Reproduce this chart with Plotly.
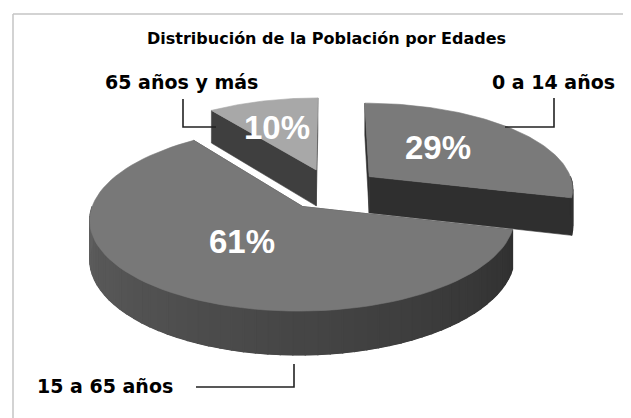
import numpy as np
import plotly.graph_objects as go

# ---------------- data ----------------
categories = ["0 a 14 años", "15 a 65 años", "65 años y más"]
values = [29, 61, 10]
pct_labels = ["29%", "61%", "10%"]
title_text = "Distribución de la Población por Edades"

# ---------------- style / geometry ----------------
W, HGT = 631, 418
CX, CY = 323.0, 181.0      # pie centre (px)
R, RY = 205.0, 86.0        # horizontal radius, vertical radius
K = 0.13                   # perspective factor
THICK = 37.0               # slice thickness
EXPL = 0.24                # explosion (fraction of radius)
START = 0.0                # first slice starts at 12 o'clock, clockwise

top_colors = ["#7a7a7a", "#787878", "#a8a8a8"]
cut_colors = ["#2f2f2f", "#3a3a3a", "#3f3f3f"]
wall_dark, wall_light = 0x2c, 0x60
pct_r = [0.52, 0.45, 0.6]        # radial position of percent labels
pct_dtheta = [-7.0, 2.0, -3.0]   # angular nudge of percent labels

# label placement (px) and leader paths
label_pos = [(545, 74), (97, 378), (173, 74)]
leader_paths = [
    [(546, 90), (546, 119), (497, 119)],
    [(188, 379), (286, 379), (286, 356)],
    [(175, 91), (175, 119), (208, 119)],
]


def gray(g):
    g = int(g)
    return "#%02x%02x%02x" % (g, g, g)


def proj(theta, r, off, bottom=False):
    t = np.radians(theta)
    u = r * np.sin(t) + off[0]
    w = r * np.cos(t) + off[1]
    f = 1.0 / (1.0 + K * w)
    x = CX + R * u * f
    y = CY - RY * w * f + (THICK * f if bottom else 0.0)
    return x, y


def poly_trace(xs, ys, color, lw=0.6):
    return go.Scatter(x=list(xs), y=list(ys), mode="lines", fill="toself",
                      fillcolor=color, line=dict(color=color, width=lw),
                      hoverinfo="skip", showlegend=False)


total = float(sum(values))
slices = []
acc = START
for i, v in enumerate(values):
    a = acc
    b = acc + 360.0 * v / total
    acc = b
    mid = np.radians((a + b) / 2)
    off = (EXPL * np.sin(mid), EXPL * np.cos(mid))
    slices.append(dict(i=i, a=a, b=b, off=off))

# draw back-to-front
order = sorted(slices, key=lambda s: -s["off"][1])

fig = go.Figure()
for s in order:
    i, a, b, off = s["i"], s["a"], s["b"], s["off"]
    # radial cut faces
    for edge in (a, b):
        p1 = proj(edge, 0, off)
        p2 = proj(edge, 1, off)
        p3 = proj(edge, 1, off, True)
        p4 = proj(edge, 0, off, True)
        fig.add_trace(poly_trace([p1[0], p2[0], p3[0], p4[0], p1[0]],
                                 [p1[1], p2[1], p3[1], p4[1], p1[1]],
                                 cut_colors[i]))
    # outer wall (front half)
    w0, w1 = max(a, 90.0), min(b, 270.0)
    if w1 > w0:
        th = np.linspace(w0, w1, 60)
        top = [proj(t, 1, off) for t in th]
        bot = [proj(t, 1, off, True) for t in th[::-1]]
        base = gray((wall_dark + wall_light) / 2)
        fig.add_trace(poly_trace([p[0] for p in top + bot] + [top[0][0]],
                                 [p[1] for p in top + bot] + [top[0][1]], base))
        n = max(2, int((w1 - w0) / 3) + 1)
        th = np.linspace(w0, w1, n + 1)
        for j in range(n):
            t0, t1 = th[j], th[j + 1]
            q = [proj(t0, 1, off), proj(t1, 1, off),
                 proj(t1, 1, off, True), proj(t0, 1, off, True)]
            frac = ((t0 + t1) / 2 - 90.0) / 180.0
            col = gray(wall_dark + (wall_light - wall_dark) * frac)
            fig.add_trace(poly_trace([p[0] for p in q] + [q[0][0]],
                                     [p[1] for p in q] + [q[0][1]], col, lw=1.4))
    # top face
    th = np.linspace(a, b, 80)
    xs, ys = [proj(0, 0, off)[0]], [proj(0, 0, off)[1]]
    for t in th:
        x, y = proj(t, 1, off)
        xs.append(x)
        ys.append(y)
    xs.append(xs[0])
    ys.append(ys[0])
    fig.add_trace(poly_trace(xs, ys, top_colors[i]))

annotations = []
for s in slices:
    i = s["i"]
    mid = (s["a"] + s["b"]) / 2 + pct_dtheta[i]
    x, y = proj(mid, pct_r[i], s["off"])
    annotations.append(dict(x=x, y=y, xref="x", yref="y", text="<b>%s</b>" % pct_labels[i],
                            showarrow=False,
                            font=dict(family="Liberation Sans, Arial", size=33, color="white")))
for i, name in enumerate(categories):
    lx, ly = label_pos[i]
    annotations.append(dict(x=lx, y=ly, xref="x", yref="y", text="<b>%s</b>" % name,
                            showarrow=False,
                            font=dict(family="DejaVu Sans", size=19, color="black")))
annotations.append(dict(x=318, y=30, xref="x", yref="y", text="<b>%s</b>" % title_text,
                        showarrow=False,
                        font=dict(family="DejaVu Sans", size=16, color="black")))

shapes = []
for path in leader_paths:
    d = "M %s,%s " % path[0] + " ".join("L %s,%s" % p for p in path[1:])
    shapes.append(dict(type="path", path=d, xref="x", yref="y",
                       line=dict(color="#222222", width=1.6)))
# chart-area border (top and left edges visible)
shapes.append(dict(type="line", x0=5, x1=W + 10, y0=6, y1=6, xref="x", yref="y",
                   line=dict(color="#c4c4c4", width=1.5)))
shapes.append(dict(type="line", x0=5, x1=5, y0=6, y1=HGT + 10, xref="x", yref="y",
                   line=dict(color="#c4c4c4", width=1.5)))

fig.update_layout(
    width=W, height=HGT,
    margin=dict(l=0, r=0, t=0, b=0),
    paper_bgcolor="white", plot_bgcolor="white",
    xaxis=dict(range=[0, W], visible=False, fixedrange=True),
    yaxis=dict(range=[HGT, 0], visible=False, fixedrange=True),
    annotations=annotations, shapes=shapes,
    showlegend=False,
)

fig.write_html("out.html")
